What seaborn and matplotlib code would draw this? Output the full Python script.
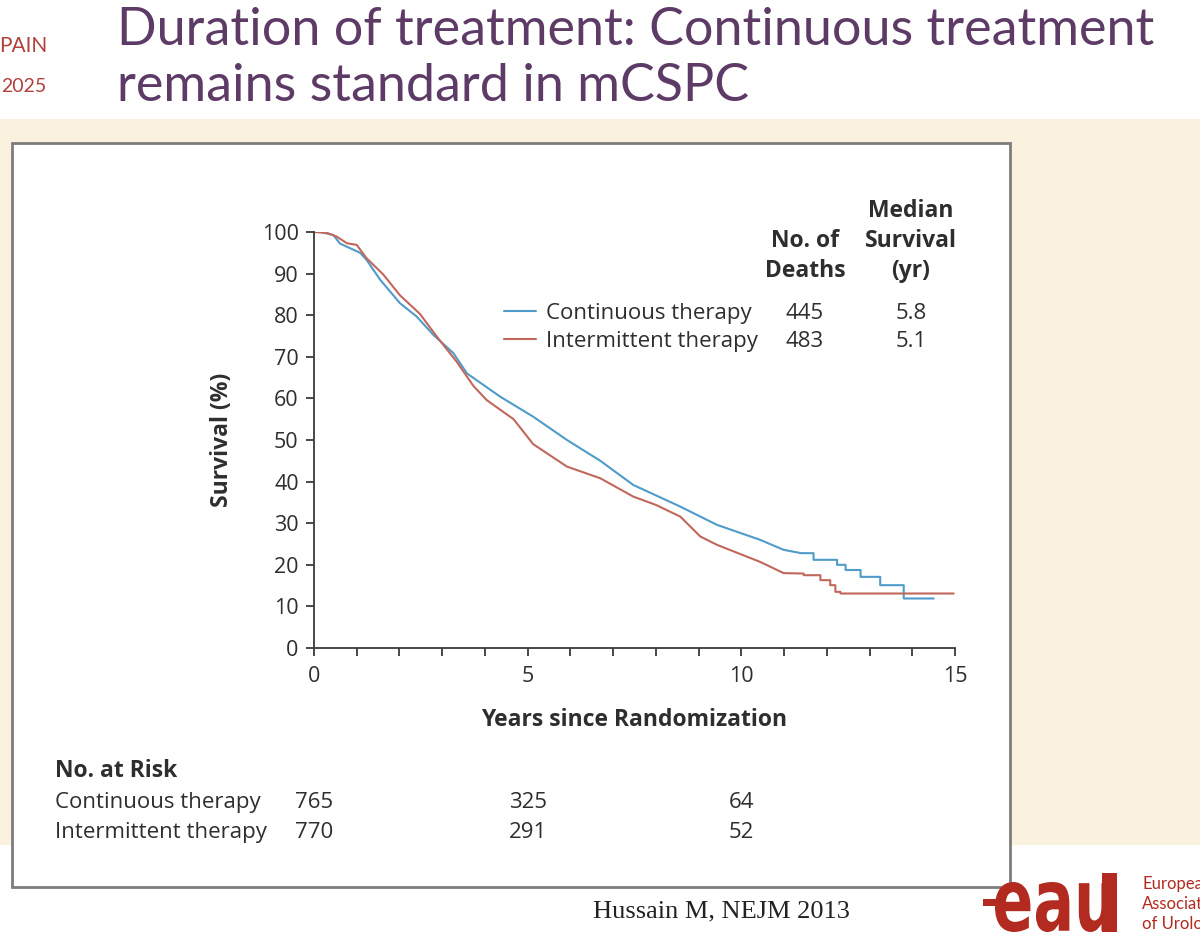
import matplotlib
matplotlib.use('Agg')

import numpy as np
import matplotlib.pyplot as plt
import seaborn as sns
from matplotlib.patches import Rectangle, PathPatch
from matplotlib.textpath import TextPath
from matplotlib.font_manager import FontProperties
from matplotlib.transforms import Affine2D, blended_transform_factory

sns.set_theme(style="white")
plt.rcParams['font.family'] = ['Open Sans', 'DejaVu Sans']

# Kaplan-Meier curves (years, survival %)
cont_years = [0, 0.14, 0.45, 0.61, 1.08, 1.23, 1.55, 2.01, 2.4, 2.8,
              3.26, 3.58, 3.9, 4.36, 5.13, 5.92, 6.7, 7.47, 8.57, 9.43,
              10.44, 10.99, 11.4, 11.69, 11.69, 12.24, 12.24, 12.44, 12.44, 12.79,
              12.79, 13.25, 13.25, 13.8, 13.8, 14.5]
cont_surv = [100, 100, 99.3, 97.2, 95.0, 93.3, 88.5, 82.9, 79.7, 75.2,
             70.9, 66.0, 63.7, 60.4, 55.6, 50.0, 45.0, 39.2, 34.0, 29.6,
             26.0, 23.6, 22.8, 22.8, 21.2, 21.2, 20.0, 20.0, 18.75, 18.75,
             17.1, 17.1, 15.1, 15.1, 11.9, 11.9]

int_years = [0, 0.3, 0.53, 0.77, 1.0, 1.23, 1.62, 2.01, 2.48, 2.87,
             3.34, 3.73, 4.04, 4.67, 5.13, 5.92, 6.7, 7.47, 8.0, 8.57,
             9.04, 9.43, 10.44, 10.99, 11.46, 11.46, 11.85, 11.85, 12.08, 12.08,
             12.2, 12.2, 12.32, 12.32, 14.97]
int_surv = [100, 99.8, 98.9, 97.3, 96.9, 93.7, 89.8, 84.8, 80.3, 74.9,
            68.8, 63.0, 59.6, 55.0, 49.0, 43.6, 40.8, 36.4, 34.4, 31.6,
            26.8, 24.8, 20.7, 18.0, 17.9, 17.5, 17.5, 16.3, 16.3, 15.1,
            15.1, 13.5, 13.5, 13.1, 13.1]

groups = ["Continuous therapy", "Intermittent therapy"]
deaths = [445, 483]
median_surv = ["5.8", "5.1"]
colors = ['#4f9bc9', '#c2675b']

risk_years = [0, 5, 10]
risk_cont = [765, 325, 64]
risk_int = [770, 291, 52]

txt = '#2e2e2e'
fs = 16
fsb = 16.5

fig = plt.figure(figsize=(12, 9.52), dpi=100)

# slide background in pixel coordinates
bg = fig.add_axes([0, 0, 1, 1])
bg.set_xlim(0, 1200)
bg.set_ylim(952, 0)
bg.axis('off')
bg.add_patch(Rectangle((0, 119), 1200, 726, facecolor='#faf1df', edgecolor='none'))
bg.add_patch(Rectangle((12, 143), 998, 744, facecolor='white', edgecolor='#7c7c7c', lw=2))

# slide title
title_col = '#5d3b66'
bg.text(117, 45, "Duration of treatment: Continuous treatment", fontsize=37.5,
        color=title_col, family=['Lato', 'DejaVu Sans'], va='baseline')
bg.text(117, 101, "remains standard in mCSPC", fontsize=37.5,
        color=title_col, family=['Lato', 'DejaVu Sans'], va='baseline')
bg.text(47, 52, "PAIN", fontsize=15, color='#b0413e', ha='right', va='baseline',
        family=['Lato', 'DejaVu Sans'])
bg.text(46, 92, "2025", fontsize=14, color='#b0413e', ha='right', va='baseline',
        family=['Lato', 'DejaVu Sans'])

# KM axes
ax = fig.add_axes([314 / 1200, (952 - 648) / 952, 641 / 1200, 416 / 952])
sns.lineplot(x=cont_years, y=cont_surv, estimator=None, sort=False,
             color=colors[0], lw=1.5, ax=ax)
sns.lineplot(x=int_years, y=int_surv, estimator=None, sort=False,
             color=colors[1], lw=1.5, ax=ax)
ax.set_xlim(0, 15)
ax.set_ylim(0, 100)
ax.patch.set_alpha(0)
for s in ['top', 'right']:
    ax.spines[s].set_visible(False)
for s in ['left', 'bottom']:
    ax.spines[s].set_color('#3a3a3a')
    ax.spines[s].set_linewidth(1.3)
ax.set_yticks(range(0, 101, 10))
ax.set_xticks(range(0, 16))
ax.set_xticklabels([str(v) if v % 5 == 0 else '' for v in range(16)])
ax.tick_params(axis='both', direction='out', length=6, width=1.3, color='#3a3a3a',
               labelsize=15.5, labelcolor=txt, bottom=True, left=True)
ax.tick_params(axis='x', pad=7)
ax.tick_params(axis='y', pad=5)
ax.set_xlabel('')
ax.set_ylabel('')

bg.text(222, 440, "Survival (%)", rotation=90, fontsize=fsb, fontweight='bold',
        color=txt, ha='center', va='center')
bg.text(634, 720, "Years since Randomization", fontsize=fsb, fontweight='bold',
        color=txt, ha='center', va='center')

# legend table
bg.text(805, 247, "No. of", fontsize=fsb, fontweight='bold', color=txt, ha='center', va='baseline')
bg.text(805, 277, "Deaths", fontsize=fsb, fontweight='bold', color=txt, ha='center', va='baseline')
bg.text(911, 217, "Median", fontsize=fsb, fontweight='bold', color=txt, ha='center', va='baseline')
bg.text(911, 247, "Survival", fontsize=fsb, fontweight='bold', color=txt, ha='center', va='baseline')
bg.text(911, 277, "(yr)", fontsize=fsb, fontweight='bold', color=txt, ha='center', va='baseline')
for i, (g, d, m) in enumerate(zip(groups, deaths, median_surv)):
    yb = 319 + 28 * i
    bg.plot([504, 536], [yb - 8, yb - 8], color=colors[i], lw=1.5)
    bg.text(546, yb, g, fontsize=fs, color=txt, va='baseline')
    bg.text(805, yb, str(d), fontsize=fs, color=txt, ha='center', va='baseline')
    bg.text(911, yb, m, fontsize=fs, color=txt, ha='center', va='baseline')

# number at risk
bg.text(55, 777, "No. at Risk", fontsize=fsb, fontweight='bold', color=txt, va='baseline')
trans = blended_transform_factory(ax.transData, bg.transData)
for i, (g, vals) in enumerate(zip(groups, [risk_cont, risk_int])):
    yb = 808 + 30 * i
    bg.text(55, yb, g, fontsize=fs, color=txt, va='baseline')
    for t, v in zip(risk_years, vals):
        ax.text(t, yb, str(v), transform=trans, fontsize=fs, color=txt,
                ha='center', va='baseline', clip_on=False)

# citation
bg.text(721, 917, "Hussain M, NEJM 2013", fontsize=19, color='#222222',
        family=['Liberation Serif', 'DejaVu Serif'], ha='center', va='baseline')

# EAU logo
eau_red = '#b32a20'
tp = TextPath((0, 0), "eau", size=1, prop=FontProperties(family='DejaVu Sans', weight='bold'))
ext = tp.get_extents()
x0, x1, y0, y1 = 995, 1112, 882, 932
tr = (Affine2D().translate(-ext.x0, -ext.y0)
      .scale((x1 - x0) / ext.width, -(y1 - y0) / ext.height)
      .translate(x0, y1))
bg.add_patch(PathPatch(tr.transform_path(tp), facecolor=eau_red, edgecolor='none'))
bg.add_patch(Rectangle((983, 899), 22, 7, facecolor=eau_red, edgecolor='none'))
bg.add_patch(Rectangle((1102, 873), 15, 59, facecolor=eau_red, edgecolor='none'))
for j, w in enumerate(["European", "Association", "of Urology"]):
    bg.text(1142, 889 + 20 * j, w, fontsize=12, color=eau_red, va='baseline',
            family=['Lato', 'DejaVu Sans'], clip_on=False)

fig.savefig('out.png', dpi=100)
